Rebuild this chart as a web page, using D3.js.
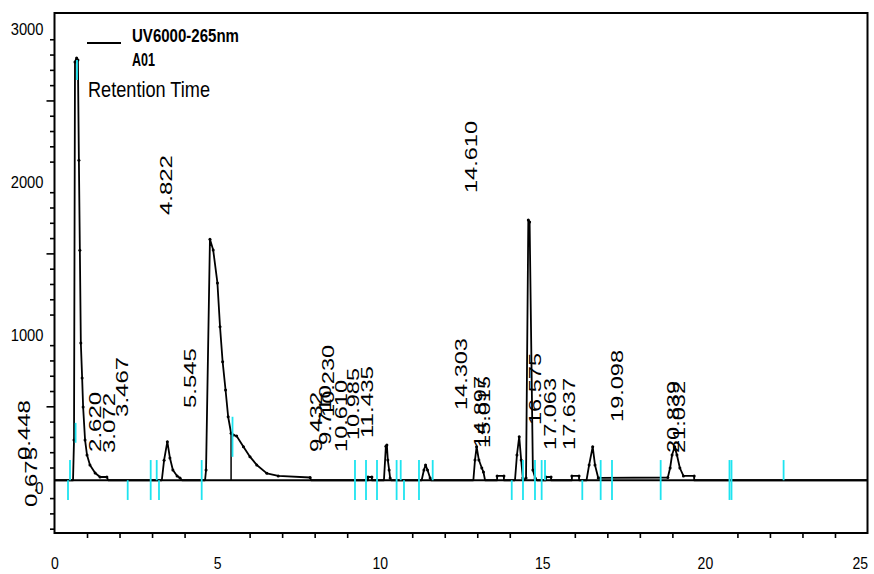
<!DOCTYPE html>
<html>
<head>
<meta charset="utf-8">
<script src="https://cdn.jsdelivr.net/npm/d3@7"></script>
<style>
    body { margin: 0; background: #fff; }
    svg { display: block; }
</style>
</head>
<body>
<svg id="chart" width="874" height="574"></svg>
<script>
// chromatogram trace (minutes, mAU)
const traceTime = [0.00, 0.57, 0.60, 0.63, 0.68, 0.72, 0.75, 0.78, 0.81, 0.85, 0.88, 0.94, 1.00, 1.09, 1.25, 1.40, 1.61, 1.65,
    3.30, 3.37, 3.47, 3.55, 3.64, 3.77, 3.86, 3.92,
    4.63, 4.66, 4.78, 4.88, 5.01, 5.09, 5.17, 5.26, 5.34, 5.43, 5.50, 5.60, 5.81, 6.01, 6.22, 6.53, 6.88, 7.86, 7.89,
    9.64, 9.64, 9.76, 9.76, 10.13, 10.19, 10.22, 10.25, 10.29, 10.32, 10.35,
    11.29, 11.36, 11.41, 11.47, 11.55, 11.58,
    12.88, 12.93, 12.98, 13.05, 13.14, 13.19, 13.24,
    13.61, 13.61, 13.82, 13.82,
    14.16, 14.22, 14.29, 14.35, 14.40, 14.44, 14.50, 14.57, 14.61, 14.71, 14.78, 14.84,
    15.11, 15.11, 15.27, 15.27,
    15.91, 15.91, 16.13, 16.13,
    16.36, 16.44, 16.55, 16.62, 16.72, 16.77,
    18.86, 18.93, 18.99, 19.07, 19.14, 19.23, 19.34, 19.67, 19.67, 25.00];
const traceSignal = [20, 20, 283, 2755, 2781, 2768, 2113, 1524, 917, 688, 499, 283, 185, 120, 67, 41, 41, 20,
    20, 151, 272, 165, 87, 48, 35, 20,
    20, 87, 1595, 1525, 1310, 1024, 795, 610, 435, 327, 316, 309, 239, 174, 120, 65, 48, 38, 20,
    20, 41, 41, 20, 20, 243, 250, 152, 87, 35, 20,
    20, 87, 120, 87, 35, 20,
    20, 152, 239, 152, 100, 74, 20,
    20, 48, 48, 20,
    20, 185, 305, 152, 35, 20, 35, 1722, 1709, 87, 35, 20,
    20, 41, 41, 20,
    20, 48, 48, 20,
    20, 120, 239, 120, 35, 35,
    38, 100, 185, 239, 185, 100, 48, 48, 20, 20];
const baselineLevel = 20;

// retention time labels and the signal level where each label starts
const peakLabels = ["0.448", "0.675", "2.620", "3.072", "3.467", "4.822", "5.545", "9.432", "9.710", "10.230",
    "10.610", "10.985", "11.435", "14.303", "14.610", "14.897", "15.015", "16.575", "17.063", "17.637",
    "19.098", "20.839", "21.032"];
const labelLevel = [152, -155, 205, 198, 434, 1754, 492, 205, 250, 434,
    205, 283, 296, 479, 1898, 231, 231, 381, 218, 218,
    401, 198, 198];

// integration markers (cyan): time, top, bottom
const markTime = [0.415, 0.477, 0.649, 0.692, 2.251, 2.958, 3.143, 3.213, 4.526, 5.474,
    9.24, 9.579, 9.917, 10.52, 10.646, 10.747, 11.208, 11.63,
    14.06, 14.406, 14.775, 14.98, 15.083, 16.23, 16.795, 17.143, 18.64, 20.756, 20.818, 22.42];
const markTop = [20, 152, 395, 2768, 20, 152, 152, 20, 152, 435,
    152, 152, 152, 152, 152, 20, 152, 152,
    20, 152, 152, 152, 152, 20, 152, 152, 152, 152, 152, 152];
const markBottom = [-109, 20, 265, 2637, -109, -109, 20, -109, -109, 173,
    -109, -109, -109, -109, 20, -109, -109, 20,
    -109, -109, -109, -109, 20, -109, -109, -109, -109, -109, -109, 20];

const dropTime = [5.43];
const dropLevel = [327];

const xMajor = [0, 5, 10, 15, 20, 25];
const yMajor = [0, 1000, 2000, 3000];

const font = "'Liberation Sans', Arial, sans-serif";

const svg = d3.select("#chart");

const x = d3.scaleLinear()
    .domain([0, 25])
    .range([54.5, 867.5]);
const y = d3.scaleLinear()
    .domain([-325, 3075])
    .range([533, 13]);

// x axis: minor ticks only, then the labels
svg.append("g")
    .attr("transform", `translate(0, ${y.range()[0]})`)
    .call(d3.axisBottom(x).tickValues(d3.range(1, 25).filter(d => d % 5)).tickSize(5).tickFormat(""))
    .call(g => g.select(".domain").remove())
    .selectAll("line")
    .attr("stroke", "#000")
    .attr("stroke-width", 1.6);

svg.append("g")
    .attr("transform", `translate(0, ${y.range()[0]})`)
    .call(d3.axisBottom(x).tickValues(xMajor).tickSize(0).tickPadding(24).tickFormat(d3.format("d")))
    .call(g => g.select(".domain").remove())
    .selectAll("text")
    .attr("textLength", d => String(d).length * 7.8)
    .attr("lengthAdjust", "spacingAndGlyphs")
    // the last label sits against the right edge, keep it inside
    .attr("text-anchor", d => d === 25 ? "end" : "middle")
    .attr("dx", 0)
    .style("font-family", font)
    .style("font-size", "16.5px")
    .style("fill", "#000");

// y axis: minor ticks every 100, longer at the 500s
const yMinor = d3.range(-300, 3001, 100).filter(d => d % 1000 !== 0);
svg.append("g")
    .attr("transform", `translate(${x.range()[0]}, 0)`)
    .selectAll("line")
    .data(yMinor)
    .enter()
    .append("line")
    .attr("x1", d => d % 500 === 0 ? -8 : -4.5)
    .attr("x2", 0)
    .attr("y1", d => y(d))
    .attr("y2", d => y(d))
    .attr("stroke", "#000")
    .attr("stroke-width", 1.6);

svg.append("g")
    .attr("transform", `translate(${x.range()[0]}, 0)`)
    .call(d3.axisLeft(y).tickValues(yMajor).tickSize(0).tickPadding(11).tickFormat(d3.format("d")))
    .call(g => g.select(".domain").remove())
    .selectAll("text")
    .attr("dy", "0.6em")
    .attr("textLength", d => String(d).length * 8.2)
    .attr("lengthAdjust", "spacingAndGlyphs")
    .style("font-family", font)
    .style("font-size", "16.5px")
    .style("fill", "#000");

// frame
svg.append("rect")
    .attr("x", x.range()[0])
    .attr("y", y.range()[1])
    .attr("width", x.range()[1] - x.range()[0])
    .attr("height", y.range()[0] - y.range()[1])
    .attr("fill", "none")
    .attr("stroke", "#000")
    .attr("stroke-width", 2);

// baseline
svg.append("line")
    .attr("x1", x(0))
    .attr("x2", x(25))
    .attr("y1", y(baselineLevel))
    .attr("y2", y(baselineLevel))
    .attr("stroke", "#000")
    .attr("stroke-width", 2);

const trace = traceTime.map((t, i) => ({ t: t, v: traceSignal[i] }));

const line = d3.line()
    .x(d => x(d.t))
    .y(d => y(d.v));

svg.append("path")
    .datum(trace)
    .attr("fill", "none")
    .attr("stroke", "#000")
    .attr("stroke-width", 1.8)
    .attr("stroke-linejoin", "round")
    .attr("d", line);

svg.append("g")
    .selectAll("circle")
    .data(trace.filter(d => d.v > 30))
    .enter()
    .append("circle")
    .attr("cx", d => x(d.t))
    .attr("cy", d => y(d.v))
    .attr("r", 1.5)
    .attr("fill", "#000");

svg.append("g")
    .selectAll("line")
    .data(dropTime)
    .enter()
    .append("line")
    .attr("x1", d => x(d))
    .attr("x2", d => x(d))
    .attr("y1", (d, i) => y(dropLevel[i]))
    .attr("y2", y(baselineLevel))
    .attr("stroke", "#000")
    .attr("stroke-width", 1.5);

// cyan markers
svg.append("g")
    .selectAll("line")
    .data(markTime)
    .enter()
    .append("line")
    .attr("x1", d => x(d))
    .attr("x2", d => x(d))
    .attr("y1", (d, i) => y(markTop[i]))
    .attr("y2", (d, i) => y(markBottom[i]))
    .attr("stroke", "#1ee4f0")
    .attr("stroke-width", 1.8);

// rotated retention time labels
svg.append("g")
    .selectAll("text")
    .data(peakLabels)
    .enter()
    .append("text")
    .attr("transform", (d, i) => `translate(${x(+d) - (d.length === 5 ? 39 : 53)}, ${y(labelLevel[i])}) rotate(-90)`)
    .attr("textLength", d => d.length * 12)
    .attr("lengthAdjust", "spacingAndGlyphs")
    .style("font-family", font)
    .style("font-size", "17px")
    .style("fill", "#000")
    .text(d => d);

// legend
svg.append("line")
    .attr("x1", 87)
    .attr("x2", 121)
    .attr("y1", 43)
    .attr("y2", 43)
    .attr("stroke", "#000")
    .attr("stroke-width", 2);

svg.append("text")
    .attr("x", 132)
    .attr("y", 42)
    .attr("textLength", 107)
    .attr("lengthAdjust", "spacingAndGlyphs")
    .style("font-family", font)
    .style("font-weight", "bold")
    .style("font-size", "17.5px")
    .text("UV6000-265nm");

svg.append("text")
    .attr("x", 132)
    .attr("y", 66)
    .attr("textLength", 23)
    .attr("lengthAdjust", "spacingAndGlyphs")
    .style("font-family", font)
    .style("font-weight", "bold")
    .style("font-size", "17.5px")
    .text("A01");

svg.append("text")
    .attr("x", 88)
    .attr("y", 97)
    .attr("textLength", 122)
    .attr("lengthAdjust", "spacingAndGlyphs")
    .style("font-family", font)
    .style("font-size", "21.5px")
    .text("Retention Time");
</script>
</body>
</html>
